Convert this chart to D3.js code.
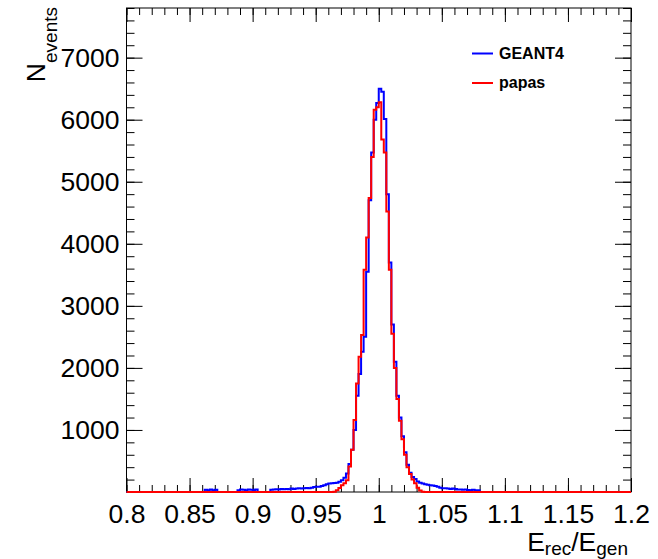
<!DOCTYPE html>
<html>
<head>
<meta charset="utf-8">
<script src="https://cdn.jsdelivr.net/npm/d3@7"></script>
<style>
  html, body { margin: 0; padding: 0; background: #fff; }
  svg { display: block; }
  text { font-family: "Liberation Sans", Arial, sans-serif; }
</style>
</head>
<body>
<svg id="chart" width="658" height="559"></svg>
<script>
// Histogram range and binning of E_rec/E_gen
const histRange = [0.8, 1.2];

// GEANT4 counts per bin (200 bins over 0.8 .. 1.2)
const geant4 = [
  0, 0, 0, 0, 0, 0, 0, 0, 0, 0,
  0, 0, 0, 0, 0, 0, 0, 0, 0, 0,
  0, 0, 0, 0, 0, 0, 0, 0, 0, 0,
  0, 35, 30, 40, 30, 35, 0, 0, 0, 0,
  0, 0, 0, 0, 30, 40, 35, 30, 40, 35,
  30, 40, 0, 0, 0, 0, 0, 35, 40, 45,
  40, 50, 45, 50, 45, 55, 50, 55, 60, 55,
  60, 65, 60, 70, 80, 85, 85, 95, 110, 125,
  135, 140, 145, 150, 165, 190, 230, 300, 450, 680,
  1000, 1550, 1900, 2260, 2500, 3550, 4700, 5470, 6000, 6270,
  6500, 6450, 6010, 4800, 3700, 2700, 2100, 1550, 1200, 900,
  640, 440, 310, 240, 210, 170, 150, 135, 125, 115,
  110, 105, 95, 85, 70, 60, 62, 55, 50, 55,
  48, 42, 40, 36, 40, 34, 30, 35, 30, 28,
  0, 0, 0, 0, 0, 0, 0, 0, 0, 0,
  0, 0, 0, 0, 0, 0, 0, 0, 0, 0,
  0, 0, 0, 0, 0, 0, 0, 0, 0, 0,
  0, 0, 0, 0, 0, 0, 0, 0, 0, 0,
  0, 0, 0, 0, 0, 0, 0, 0, 0, 0,
  0, 0, 0, 0, 0, 0, 0, 0, 0, 0
];

// papas counts per bin (same binning)
const papas = [
  0, 0, 0, 0, 0, 0, 0, 0, 0, 0,
  0, 0, 0, 0, 0, 0, 0, 0, 0, 0,
  0, 0, 0, 0, 0, 0, 0, 0, 0, 0,
  0, 0, 0, 0, 0, 0, 0, 0, 0, 0,
  0, 0, 0, 0, 0, 0, 0, 0, 0, 0,
  0, 0, 0, 0, 0, 0, 0, 0, 0, 0,
  0, 0, 0, 0, 0, 0, 0, 0, 0, 0,
  0, 0, 0, 0, 0, 0, 0, 0, 0, 0,
  0, 0, 5, 30, 65, 110, 140, 190, 410, 680,
  1160, 1750, 2180, 2530, 3580, 4100, 4740, 5400, 6160, 6200,
  6280, 5680, 5470, 4520, 3580, 2550, 2000, 1500, 1150, 850,
  600, 400, 290, 200, 140, 70, 25, 5, 0, 0,
  0, 0, 0, 0, 0, 0, 0, 0, 0, 0,
  0, 0, 0, 0, 0, 0, 0, 0, 0, 0,
  0, 0, 0, 0, 0, 0, 0, 0, 0, 0,
  0, 0, 0, 0, 0, 0, 0, 0, 0, 0,
  0, 0, 0, 0, 0, 0, 0, 0, 0, 0,
  0, 0, 0, 0, 0, 0, 0, 0, 0, 0,
  0, 0, 0, 0, 0, 0, 0, 0, 0, 0,
  0, 0, 0, 0, 0, 0, 0, 0, 0, 0
];

// Axis ticks and labels
const xTickValues = [0.8, 0.85, 0.9, 0.95, 1.0, 1.05, 1.1, 1.15, 1.2];
const xTickLabels = ["0.8", "0.85", "0.9", "0.95", "1", "1.05", "1.1", "1.15", "1.2"];
const yTickValues = [1000, 2000, 3000, 4000, 5000, 6000, 7000];
const yTickLabels = ["1000", "2000", "3000", "4000", "5000", "6000", "7000"];
const yMax = 7800;

const seriesNames = ["GEANT4", "papas"];
const seriesColors = ["#0000ff", "#ff0000"];

const frame = { left: 126.5, right: 631, top: 8, bottom: 492 };
const svg = d3.select("#chart");
svg.append("rect").attr("width", 658).attr("height", 559).attr("fill", "#fff");

const x = d3.scaleLinear().domain(histRange).range([frame.left, frame.right]);
const y = d3.scaleLinear().domain([0, yMax]).range([frame.bottom, frame.top]);

const minorX = d3.range(0, 41).map(i => histRange[0] + i * 0.01);
const minorY = d3.range(0, 40).map(i => i * 200);
const labelFont = 26.5;

function styleAxis(g) {
  g.select(".domain").remove();
  g.selectAll(".tick line").attr("stroke", "#000").attr("stroke-width", 1);
  g.selectAll(".tick text").attr("fill", "#000").attr("font-size", labelFont)
    .attr("font-family", "Liberation Sans, Arial, sans-serif");
}

// Bottom axis: labelled majors and minor ticks, pointing into the frame
svg.append("g").attr("transform", `translate(0,${frame.bottom})`)
  .call(d3.axisBottom(x).tickValues(minorX).tickSize(-7).tickFormat(""))
  .call(styleAxis);
svg.append("g").attr("transform", `translate(0,${frame.bottom})`)
  .call(d3.axisBottom(x).tickValues(xTickValues).tickSize(-14).tickPadding(12)
    .tickFormat((d, i) => xTickLabels[i]))
  .call(styleAxis);
// Top axis mirrors the tick marks
svg.append("g").attr("transform", `translate(0,${frame.top})`)
  .call(d3.axisTop(x).tickValues(minorX).tickSize(-7).tickFormat(""))
  .call(styleAxis);
svg.append("g").attr("transform", `translate(0,${frame.top})`)
  .call(d3.axisTop(x).tickValues(xTickValues).tickSize(-14).tickFormat(""))
  .call(styleAxis);

// Left axis
svg.append("g").attr("transform", `translate(${frame.left},0)`)
  .call(d3.axisLeft(y).tickValues(minorY).tickSize(-8).tickFormat(""))
  .call(styleAxis);
svg.append("g").attr("transform", `translate(${frame.left},0)`)
  .call(d3.axisLeft(y).tickValues(yTickValues).tickSize(-16).tickPadding(7)
    .tickFormat((d, i) => yTickLabels[i]))
  .call(styleAxis);
// Right axis mirrors the tick marks
svg.append("g").attr("transform", `translate(${frame.right},0)`)
  .call(d3.axisRight(y).tickValues(minorY).tickSize(-8).tickFormat(""))
  .call(styleAxis);
svg.append("g").attr("transform", `translate(${frame.right},0)`)
  .call(d3.axisRight(y).tickValues(yTickValues).tickSize(-16).tickFormat(""))
  .call(styleAxis);

// Frame
svg.append("rect")
  .attr("x", frame.left).attr("y", frame.top)
  .attr("width", frame.right - frame.left).attr("height", frame.bottom - frame.top)
  .attr("fill", "none").attr("stroke", "#000").attr("stroke-width", 1);

// Step outlines of the two histograms
function stepPoints(counts) {
  const n = counts.length;
  const w = (histRange[1] - histRange[0]) / n;
  const pts = counts.map((c, i) => [histRange[0] + i * w, c]);
  pts.push([histRange[1], counts[n - 1]]);
  return pts;
}
const stepLine = d3.line().x(d => x(d[0])).y(d => y(d[1])).curve(d3.curveStepAfter);

[geant4, papas].forEach((counts, k) => {
  svg.append("path")
    .attr("d", stepLine(stepPoints(counts)))
    .attr("fill", "none")
    .attr("stroke", seriesColors[k])
    .attr("stroke-width", 2)
    .attr("stroke-linejoin", "miter");
});

// Legend
const legend = svg.append("g");
const legendRows = [53.5, 83];
seriesNames.forEach((name, k) => {
  legend.append("line")
    .attr("x1", 472).attr("x2", 493)
    .attr("y1", legendRows[k]).attr("y2", legendRows[k])
    .attr("stroke", seriesColors[k]).attr("stroke-width", 2);
  legend.append("text")
    .attr("x", 499).attr("y", legendRows[k] + 5.2)
    .attr("font-size", 16).attr("font-weight", "bold").attr("fill", "#000")
    .text(name);
});

// Axis titles with subscripts
const yTitle = svg.append("text")
  .attr("transform", `translate(45,7) rotate(-90)`)
  .attr("text-anchor", "end").attr("fill", "#000").attr("font-size", labelFont);
yTitle.append("tspan").text("N");
yTitle.append("tspan").attr("font-size", 19).attr("dy", 12).text("events");

const xTitle = svg.append("text")
  .attr("x", 628).attr("y", 551)
  .attr("text-anchor", "end").attr("fill", "#000").attr("font-size", labelFont);
xTitle.append("tspan").text("E");
xTitle.append("tspan").attr("font-size", 19).attr("dy", 3.5).text("rec");
xTitle.append("tspan").attr("dy", -3.5).text("/E");
xTitle.append("tspan").attr("font-size", 19).attr("dy", 3.5).text("gen");
</script>
</body>
</html>
